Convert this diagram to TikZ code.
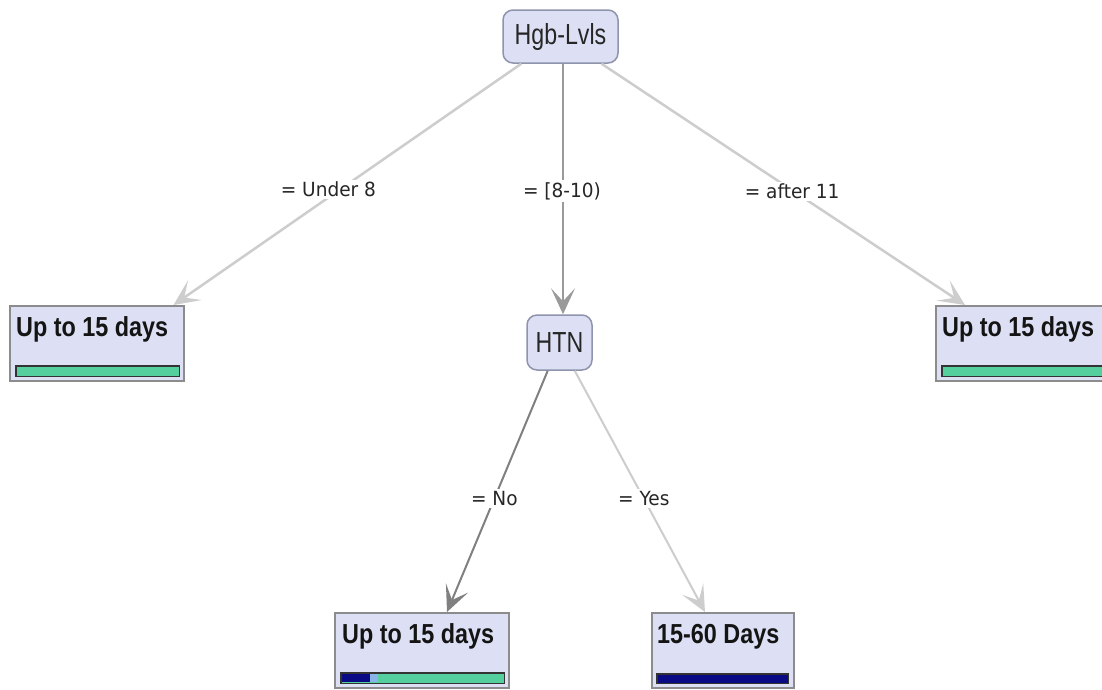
\documentclass[tikz,border=0pt]{standalone}
\usepackage{fontspec}
\setmainfont{Liberation Sans}
\newfontfamily\innerfont[FakeStretch=0.8]{Liberation Sans}
\newfontfamily\leaffont[FakeStretch=0.85]{Liberation Sans}
\newfontfamily\labelfont[FakeStretch=0.95]{DejaVu Sans}
\usetikzlibrary{arrows.meta}

\definecolor{boxfill}{HTML}{DDE0F4}
\definecolor{boxline}{HTML}{8C8C8C}
\definecolor{innerline}{HTML}{8F94AD}
\definecolor{barteal}{HTML}{55CF9D}
\definecolor{barnavy}{HTML}{0A0A84}
\definecolor{barsky}{HTML}{8AB4E8}
\definecolor{edgelight}{HTML}{CDCDCD}
\definecolor{edgemid}{HTML}{9A9A9A}
\definecolor{edgedark}{HTML}{808080}

\tikzset{
  innernode/.style={draw=innerline, line width=1.5pt, fill=boxfill,
    rounded corners=10pt, inner sep=0pt, font=\innerfont\fontsize{29}{29}\selectfont,
    text=black!85},
  leaf/.style={draw=boxline, line width=1.5pt, fill=boxfill, anchor=north west,
    minimum width=174pt, minimum height=75pt, inner sep=0pt},
  leaftext/.style={anchor=base west, inner sep=0pt,
    font=\leaffont\bfseries\fontsize{27.5}{27.5}\selectfont, text=black!92},
  bar/.style={draw=black!80, line width=1.4pt},
  elabel/.style={fill=white, inner sep=2pt, text=black!85,
    font=\labelfont\fontsize{19.5}{19.5}\selectfont},
  tip/.style={-{Stealth[length=26pt,width=24pt,inset=13pt]}},
  edgeA/.style={tip, draw=edgelight, fill=edgelight, line width=2.5pt},
  edgeB/.style={tip, draw=edgemid, fill=edgemid, line width=1.5pt},
  edgeC/.style={tip, draw=edgedark, fill=edgedark, line width=2pt},
}

\begin{document}
\begin{tikzpicture}[x=1pt, y=-1pt]
\clip (0,0) rectangle (1102,689);
\fill[white] (0,0) rectangle (1102,689);

% decision nodes
\node[innernode, minimum width=115pt, minimum height=53pt] (root) at (560.5,36.5) {Hgb-Lvls};
\node[innernode, minimum width=65pt, minimum height=55pt] (htn) at (559.5,342.5) {HTN};

% leaf boxes
\node[leaf] (leafA) at (9,305) {};
\node[leaf] (leafB) at (935,305) {};
\node[leaf] (leafC) at (334,612) {};
\node[leaf, minimum width=142pt] (leafD) at (651,612) {};

% leaf captions
\node[leaftext] (leafAtext) at ([shift={(7,31)}]leafA.north west) {Up to 15 days};
\node[leaftext] (leafBtext) at ([shift={(7,31)}]leafB.north west) {Up to 15 days};
\node[leaftext] (leafCtext) at ([shift={(8,31)}]leafC.north west) {Up to 15 days};
\node[leaftext] (leafDtext) at ([shift={(6,31)}]leafD.north west) {15-60 Days};

% class distribution bars
\fill[barteal] ([shift={(7,61)}]leafA.north west) rectangle ([shift={(-5,-5)}]leafA.south east);
\draw[bar] ([shift={(7,61)}]leafA.north west) rectangle ([shift={(-5,-5)}]leafA.south east);
\fill[barteal] ([shift={(7,61)}]leafB.north west) rectangle ([shift={(-5,-5)}]leafB.south east);
\draw[bar] ([shift={(7,61)}]leafB.north west) rectangle ([shift={(-5,-5)}]leafB.south east);
\fill[barteal] ([shift={(7,61)}]leafC.north west) rectangle ([shift={(-5,-5)}]leafC.south east);
\fill[barsky] ([shift={(7,61)}]leafC.north west) rectangle ([shift={(44,70)}]leafC.north west);
\fill[barnavy] ([shift={(7,61)}]leafC.north west) rectangle ([shift={(36,70)}]leafC.north west);
\draw[bar] ([shift={(7,61)}]leafC.north west) rectangle ([shift={(-5,-5)}]leafC.south east);
\fill[barnavy] ([shift={(6,62)}]leafD.north west) rectangle ([shift={(-6,-5)}]leafD.south east);
\draw[bar] ([shift={(6,62)}]leafD.north west) rectangle ([shift={(-6,-5)}]leafD.south east);

% branches
\draw[edgeA] (root) -- ([xshift=-11pt]leafA.north east)
  node[elabel, pos=0.52, xshift=-12pt] (lblA) {= Under 8};
\draw[edgeB] ([xshift=2.5pt]root.south) -- ([xshift=3.5pt]htn.north)
  node[elabel, pos=0.5, xshift=-1pt, yshift=-2pt] (lblB) {= [8-10)};
\draw[edgeA] (root) -- ([xshift=30pt]leafB.north west)
  node[elabel, pos=0.53, xshift=-2pt] (lblC) {= after 11};
\draw[edgeC] (htn) -- ([xshift=113pt]leafC.north west)
  node[elabel, pos=0.53] (lblD) {= No};
\draw[edgeA, line width=2pt] (htn) -- ([xshift=54pt]leafD.north west)
  node[elabel, pos=0.53] (lblE) {= Yes};
\end{tikzpicture}
\end{document}
